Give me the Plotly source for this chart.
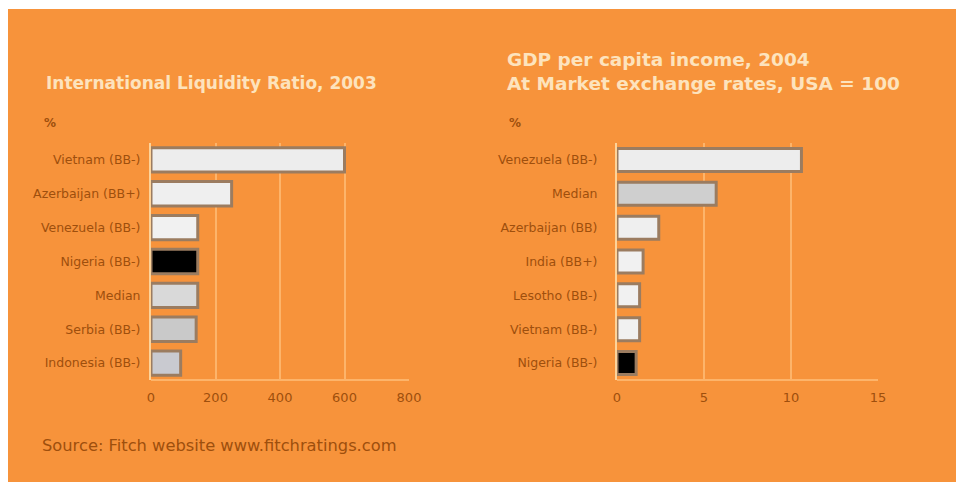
import plotly.graph_objects as go

W, H = 956, 482

# Left panel: international liquidity ratio, 2003 (%)
liq_countries = ["Vietnam (BB-)", "Azerbaijan (BB+)", "Venezuela (BB-)", "Nigeria (BB-)",
                 "Median", "Serbia (BB-)", "Indonesia (BB-)"]
liq_values = [600, 250, 145, 145, 145, 140, 92]
liq_colors = ["#ededed", "#efefef", "#f1f1f1", "#000000", "#d9d9d9", "#c9c9c9", "#c9cad0"]
liq_ticks = [0, 200, 400, 600, 800]

# Right panel: GDP per capita income, 2004, USA = 100
gdp_countries = ["Venezuela (BB-)", "Median", "Azerbaijan (BB)", "India (BB+)",
                 "Lesotho (BB-)", "Vietnam (BB-)", "Nigeria (BB-)"]
gdp_values = [10.6, 5.7, 2.4, 1.5, 1.3, 1.3, 1.1]
gdp_colors = ["#ededed", "#cfcfcf", "#efefef", "#f1f1f1", "#f1f1f1", "#f1f1f1", "#000000"]
gdp_ticks = [0, 5, 10, 15]

ORANGE = "#f7933b"
GRID = "#fdb46a"
LABEL = "#9e4f0d"
TITLE = "#fde3bd"
FONT = "DejaVu Sans"


def px_x(v):
    return v / W


def px_y(v):
    return 1 - v / H


fig = go.Figure()

fig.add_trace(go.Bar(
    x=liq_values, y=liq_countries, orientation="h",
    marker=dict(color=liq_colors, line=dict(color="#9b7c60", width=3)),
    xaxis="x", yaxis="y", showlegend=False, width=0.72,
))
fig.add_trace(go.Bar(
    x=gdp_values, y=gdp_countries, orientation="h",
    marker=dict(color=gdp_colors, line=dict(color="#9b7c60", width=3)),
    xaxis="x2", yaxis="y2", showlegend=False, width=0.68,
))

y_dom = [px_y(380), px_y(143)]
xaxis_common = dict(
    showgrid=True, gridcolor=GRID, gridwidth=2,
    zeroline=False, showline=False,
    tickfont=dict(family=FONT, size=13, color=LABEL),
    ticks="", ticklabelstandoff=8, fixedrange=True,
)
yaxis_common = dict(
    showgrid=False, zeroline=False, showline=True, linecolor="#fdd39a", linewidth=2,
    mirror=False, ticks="", ticklen=0,
    tickfont=dict(family=FONT, size=12.5, color=LABEL),
    autorange="reversed", fixedrange=True,
)

fig.update_layout(
    width=W, height=H,
    margin=dict(l=0, r=0, t=0, b=0, autoexpand=False),
    paper_bgcolor=ORANGE,
    plot_bgcolor=ORANGE,
    bargap=0.3,
    xaxis=dict(domain=[px_x(151), px_x(409)], range=[0, 800], tickvals=liq_ticks,
               anchor="y", **xaxis_common),
    yaxis=dict(domain=y_dom, anchor="x", categoryorder="array",
               categoryarray=liq_countries, ticklabelstandoff=6, **yaxis_common),
    xaxis2=dict(domain=[px_x(617), px_x(878)], range=[0, 15], tickvals=gdp_ticks,
                anchor="y2", **xaxis_common),
    yaxis2=dict(domain=y_dom, anchor="x2", categoryorder="array",
                categoryarray=gdp_countries, ticklabelstandoff=15, **yaxis_common),
)

# White strips along the left and top edges, bottom axis lines
fig.add_shape(type="rect", xref="paper", yref="paper", layer="below",
              x0=0, x1=px_x(8), y0=0, y1=1, fillcolor="white", line=dict(width=0))
fig.add_shape(type="rect", xref="paper", yref="paper", layer="below",
              x0=0, x1=1, y0=px_y(9), y1=1, fillcolor="white", line=dict(width=0))
for x0, x1 in [(151, 409), (617, 878)]:
    fig.add_shape(type="line", xref="paper", yref="paper",
                  x0=px_x(x0), x1=px_x(x1), y0=px_y(380), y1=px_y(380),
                  line=dict(color=GRID, width=2))

texts = [
    (44, 83, "International Liquidity Ratio, 2003", 17, TITLE, True),
    (505, 59, "GDP per capita income, 2004", 18.5, TITLE, True),
    (505, 83, "At Market exchange rates, USA = 100", 18.5, TITLE, True),
    (42, 123, "%", 12, LABEL, True),
    (507, 123, "%", 12, LABEL, True),
    (40, 445, "Source: Fitch website www.fitchratings.com", 16.3, LABEL, False),
]
for x, y, t, s, c, b in texts:
    fig.add_annotation(xref="paper", yref="paper", x=px_x(x), y=px_y(y),
                       text=f"<b>{t}</b>" if b else t, showarrow=False,
                       xanchor="left", yanchor="middle",
                       font=dict(family=FONT, size=s, color=c))

fig.write_html(
    "out.html",
    config={"responsive": False, "displayModeBar": False},
    post_script="document.body.style.margin='0';document.body.style.overflow='hidden';",
)
